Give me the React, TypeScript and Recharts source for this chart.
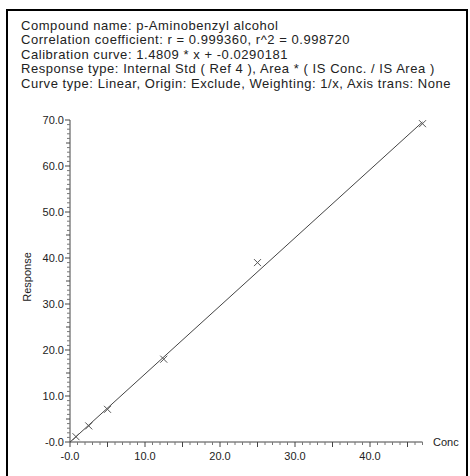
import { ScatterChart, Scatter, XAxis, YAxis, ReferenceLine } from 'recharts';

const FONT = '"Liberation Sans", Arial, Helvetica, sans-serif';
const TEXT = '#222';
const AXIS = '#444';

const HEADER_LINES = [
  'Compound name: p-Aminobenzyl alcohol',
  'Correlation coefficient: r = 0.999360, r^2 = 0.998720',
  'Calibration curve: 1.4809 * x + -0.0290181',
  'Response type: Internal Std ( Ref 4 ), Area * ( IS Conc. / IS Area )',
  'Curve type: Linear, Origin: Exclude, Weighting: 1/x, Axis trans: None',
];

// calibration points
const CONC = [0.8, 2.5, 5.0, 12.5, 25.0, 47.0];
const RESPONSE = [1.15, 3.5, 7.1, 18.0, 39.0, 69.2];

// fitted line end points
const FIT_X = [0, 47];
const FIT_Y = [-0.03, 69.57];

const X_DOMAIN = [0, 47];
const Y_DOMAIN = [0, 70];
const X_TICKS = Array.from({ length: 48 }, (_, i) => i);
const Y_TICKS = Array.from({ length: 71 }, (_, i) => i);

const points = CONC.map((c, i) => ({ conc: c, response: RESPONSE[i] }));

function fmt(v: number) {
  return v === 0 ? '-0.0' : v.toFixed(1);
}

function XTick(props: any) {
  const { x, y, payload } = props;
  const v = payload.value as number;
  const major = v % 5 === 0;
  return (
    <g>
      <line x1={x} x2={x} y1={y} y2={y + (major ? 5 : 3)} stroke={major ? AXIS : '#777'} />
      {v % 10 === 0 && (
        <text x={x} y={y + 18} textAnchor="middle" fontSize={11} fontFamily={FONT} fill={TEXT}>
          {fmt(v)}
        </text>
      )}
    </g>
  );
}

function YTick(props: any) {
  const { x, y, payload } = props;
  const v = payload.value as number;
  const major = v % 5 === 0;
  const len = v % 10 === 0 ? 5 : major ? 4 : 3;
  return (
    <g>
      <line x1={x - len} x2={x} y1={y} y2={y} stroke={major ? AXIS : '#777'} />
      {v % 10 === 0 && (
        <text x={x - 6} y={y + 4} textAnchor="end" fontSize={11} fontFamily={FONT} fill={TEXT}>
          {fmt(v)}
        </text>
      )}
    </g>
  );
}

function Cross(props: any) {
  const { cx, cy } = props;
  const s = 3.5;
  return (
    <path
      d={`M${cx - s},${cy - s}L${cx + s},${cy + s}M${cx - s},${cy + s}L${cx + s},${cy - s}`}
      stroke="#555"
      strokeWidth={1}
      fill="none"
    />
  );
}

export default function App() {
  return (
    <div
      style={{
        position: 'absolute',
        left: 0,
        top: 0,
        width: 470,
        height: 476,
        overflow: 'hidden',
        background: '#fff',
      }}
    >
      <div
        style={{
          position: 'absolute',
          left: 6,
          top: 9,
          width: 462,
          height: 480,
          border: '2px solid #000',
          boxSizing: 'border-box',
        }}
      />
      <ScatterChart
        width={470}
        height={476}
        margin={{ top: 120, right: 47.5, bottom: 4, left: 10 }}
        style={{ position: 'absolute', left: 0, top: 0 }}
      >
        <XAxis
          type="number"
          dataKey="conc"
          domain={X_DOMAIN}
          ticks={X_TICKS}
          interval={0}
          height={30}
          tickSize={0}
          tickMargin={0}
          tickLine={false}
          stroke={AXIS}
          tick={<XTick />}
        />
        <YAxis
          type="number"
          dataKey="response"
          domain={Y_DOMAIN}
          ticks={Y_TICKS}
          interval={0}
          width={60}
          tickSize={0}
          tickMargin={0}
          tickLine={false}
          stroke={AXIS}
          tick={<YTick />}
        />
        <ReferenceLine
          segment={[
            { x: FIT_X[0], y: FIT_Y[0] },
            { x: FIT_X[1], y: FIT_Y[1] },
          ]}
          stroke="#444"
          strokeWidth={1}
          ifOverflow="visible"
        />
        <Scatter data={points} shape={<Cross />} isAnimationActive={false} />
      </ScatterChart>
      <svg
        width={470}
        height={476}
        style={{ position: 'absolute', left: 0, top: 0, pointerEvents: 'none' }}
      >
        {HEADER_LINES.map((line, i) => (
          <text
            key={i}
            x={21}
            y={29.5 + i * 14.5}
            fontSize={13}
            letterSpacing={0.55}
            fontFamily={FONT}
            fill={TEXT}
          >
            {line}
          </text>
        ))}
        <text
          x={27}
          y={277}
          transform="rotate(-90 27 277)"
          textAnchor="middle"
          dominantBaseline="central"
          fontSize={11}
          fontFamily={FONT}
          fill={TEXT}
        >
          Response
        </text>
        <text x={433} y={446} fontSize={11} fontFamily={FONT} fill={TEXT}>
          Conc
        </text>
      </svg>
    </div>
  );
}
